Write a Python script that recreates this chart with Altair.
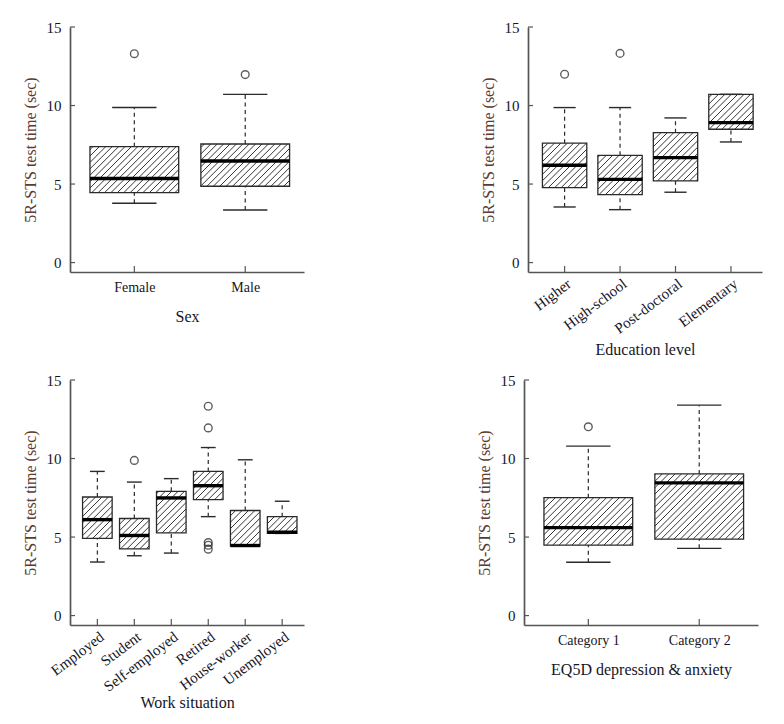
import math
import altair as alt
import pandas as pd

# ---------------- data ----------------
Y_TICKS = [0, 5, 10, 15]
Y_TITLE = "5R-STS test time (sec)"

SEX_CATS = ["Female", "Male"]
SEX_LOW = [3.78, 3.35]
SEX_Q1 = [4.46, 4.86]
SEX_MED = [5.35, 6.47]
SEX_Q3 = [7.38, 7.55]
SEX_UP = [9.87, 10.71]
SEX_OUT_CAT = ["Female", "Male"]
SEX_OUT_VAL = [13.30, 11.97]

EDU_CATS = ["Higher", "High-school", "Post-doctoral", "Elementary"]
EDU_LOW = [3.54, 3.37, 4.48, 7.68]
EDU_Q1 = [4.77, 4.33, 5.20, 8.49]
EDU_MED = [6.20, 5.30, 6.68, 8.91]
EDU_Q3 = [7.60, 6.83, 8.27, 10.71]
EDU_UP = [9.87, 9.87, 9.21, 10.71]
EDU_OUT_CAT = ["Higher", "High-school"]
EDU_OUT_VAL = [11.99, 13.32]

WORK_CATS = ["Employed", "Student", "Self-employed", "Retired", "House-worker", "Unemployed"]
WORK_LOW = [3.41, 3.81, 3.98, 6.30, 4.42, 5.23]
WORK_Q1 = [4.91, 4.25, 5.27, 7.38, 4.42, 5.23]
WORK_MED = [6.11, 5.10, 7.49, 8.27, 4.46, 5.31]
WORK_Q3 = [7.55, 6.18, 7.91, 9.18, 6.69, 6.30]
WORK_UP = [9.18, 8.50, 8.72, 10.70, 9.92, 7.28]
WORK_OUT_CAT = ["Student", "Retired", "Retired", "Retired", "Retired", "Retired"]
WORK_OUT_VAL = [9.88, 13.33, 11.95, 4.65, 4.48, 4.23]

EQ_CATS = ["Category 1", "Category 2"]
EQ_LOW = [3.40, 4.28]
EQ_Q1 = [4.49, 4.87]
EQ_MED = [5.60, 8.45]
EQ_Q3 = [7.51, 9.02]
EQ_UP = [10.79, 13.40]
EQ_OUT_CAT = ["Category 1"]
EQ_OUT_VAL = [12.02]

# ---------------- style ----------------
W = 234
H = 245
Y_LO, Y_HI = -0.6, 15
HATCH_STEP = 6.4
FONT = "Liberation Serif"
INK = "#2a2a2a"
AXIS_COL = "#555555"
LABEL_COL = "#16161f"
YTITLE_COL = "#5b3b31"


def panel(cats, low, q1, med, q3, up, out_cat, out_val, xtitle, rotated):
    n = len(cats)
    x_lo = 0.5 - 0.04 * n
    x_hi = n + 0.5 + 0.015 * n
    sx = W / (x_hi - x_lo)
    sy = H / (Y_HI - Y_LO)
    pos = list(range(1, n + 1))
    box = pd.DataFrame({"pos": pos, "cat": cats, "l": low, "q1": q1,
                        "m": med, "q3": q3, "u": up})
    box["x0"] = box["pos"] - 0.4
    box["x1"] = box["pos"] + 0.4
    box["s0"] = box["pos"] - 0.2
    box["s1"] = box["pos"] + 0.2

    segs = []
    for r in box.itertuples():
        u0 = (r.x0 - x_lo) * sx
        u1 = (r.x1 - x_lo) * sx
        v0 = (r.q1 - Y_LO) * sy
        v1 = (r.q3 - Y_LO) * sy
        kmin = math.ceil((v0 - u1) / HATCH_STEP)
        kmax = math.floor((v1 - u0) / HATCH_STEP)
        for k in range(kmin, kmax + 1):
            c = k * HATCH_STEP
            ua = max(u0, v0 - c)
            ub = min(u1, v1 - c)
            if ub - ua > 0.4:
                segs.append({"hx": ua / sx + x_lo, "hx2": ub / sx + x_lo,
                             "hy": (ua + c) / sy + Y_LO, "hy2": (ub + c) / sy + Y_LO})
    hatch = pd.DataFrame(segs)

    upper_w = box[box["u"] > box["q3"]]
    lower_w = box[box["l"] < box["q1"]]
    outl = pd.DataFrame({"cat": out_cat, "v": out_val})
    outl["pos"] = [cats.index(c) + 1 for c in out_cat]

    label_expr = "[" + ", ".join(["''"] + [f"'{c}'" for c in cats]) + "][datum.value]"
    xaxis = alt.Axis(values=pos, labelExpr=label_expr, title=xtitle, ticks=False,
                     grid=False, domainColor=AXIS_COL, domainWidth=1.7,
                     labelFont=FONT, labelFontSize=15 if rotated else 14,
                     labelColor=LABEL_COL,
                     titleFont=FONT, titleFontSize=16, titleFontWeight="normal",
                     titleColor=LABEL_COL, labelOverlap=False, labelFlush=False,
                     labelAngle=323 if rotated else 0,
                     labelAlign="right" if rotated else "center",
                     labelBaseline="top",
                     labelPadding=4 if rotated else 8,
                     titleY=77 if rotated else 44, titleBaseline="middle")
    yaxis = alt.Axis(values=Y_TICKS, title=Y_TITLE, ticks=False, grid=False,
                     domainColor=AXIS_COL, domainWidth=1.7,
                     labelFont=FONT, labelFontSize=15, labelColor=LABEL_COL,
                     labelPadding=9, titleFont=FONT, titleFontSize=16,
                     titleFontWeight="normal", titleColor=YTITLE_COL, titlePadding=8)
    xs = alt.Scale(domain=[x_lo, x_hi], nice=False, zero=False)
    ys = alt.Scale(domain=[Y_LO, Y_HI], nice=False, zero=False)

    def X(f):
        return alt.X(f + ":Q", scale=xs, axis=xaxis)

    def Y(f):
        return alt.Y(f + ":Q", scale=ys, axis=yaxis)

    fill = alt.Chart(box).mark_rect(fill="white", strokeWidth=0).encode(
        x=X("x0"), x2="x1", y=Y("q1"), y2="q3")
    hat = alt.Chart(hatch).mark_rule(color=INK, strokeWidth=0.95).encode(
        x=X("hx"), x2="hx2", y=Y("hy"), y2="hy2")
    outline = alt.Chart(box).mark_rect(fillOpacity=0, stroke=INK, strokeWidth=1.3).encode(
        x=X("x0"), x2="x1", y=Y("q1"), y2="q3")
    wu = alt.Chart(upper_w).mark_rule(color=INK, strokeWidth=1.2, strokeDash=[4, 3.5]).encode(
        x=X("pos"), y=Y("q3"), y2="u")
    wl = alt.Chart(lower_w).mark_rule(color=INK, strokeWidth=1.2, strokeDash=[4, 3.5]).encode(
        x=X("pos"), y=Y("l"), y2="q1")
    stu = alt.Chart(box).mark_rule(color=INK, strokeWidth=1.4).encode(
        x=X("s0"), x2="s1", y=Y("u"))
    stl = alt.Chart(box).mark_rule(color=INK, strokeWidth=1.4).encode(
        x=X("s0"), x2="s1", y=Y("l"))
    mline = alt.Chart(box).mark_rule(color="black", strokeWidth=3.4).encode(
        x=X("x0"), x2="x1", y=Y("m"))
    pts = alt.Chart(outl).mark_point(shape="circle", filled=False, size=60,
                                     color="#1a1a1a", strokeWidth=1.4).encode(
        x=X("pos"), y=Y("v"))
    yt = alt.Chart(pd.DataFrame({"t": Y_TICKS})).mark_rule(
        color=AXIS_COL, strokeWidth=1.2).encode(
        x=alt.value(0), x2=alt.value(5), y=Y("t"))
    xt = alt.Chart(pd.DataFrame({"pos": pos})).mark_rule(
        color=AXIS_COL, strokeWidth=1.2).encode(
        x=X("pos"), y=alt.value(H), y2=alt.value(H - 6))

    return alt.layer(fill, hat, outline, wu, wl, stu, stl, mline, pts, yt, xt).properties(
        width=W, height=H)


p1 = panel(SEX_CATS, SEX_LOW, SEX_Q1, SEX_MED, SEX_Q3, SEX_UP,
           SEX_OUT_CAT, SEX_OUT_VAL, "Sex", False)
p2 = panel(EDU_CATS, EDU_LOW, EDU_Q1, EDU_MED, EDU_Q3, EDU_UP,
           EDU_OUT_CAT, EDU_OUT_VAL, "Education level", True)
p3 = panel(WORK_CATS, WORK_LOW, WORK_Q1, WORK_MED, WORK_Q3, WORK_UP,
           WORK_OUT_CAT, WORK_OUT_VAL, "Work situation", True)
p4 = panel(EQ_CATS, EQ_LOW, EQ_Q1, EQ_MED, EQ_Q3, EQ_UP,
           EQ_OUT_CAT, EQ_OUT_VAL, "EQ5D depression & anxiety", False)

chart = alt.vconcat(
    alt.hconcat(p1, p2, spacing=176),
    alt.hconcat(p3, p4, spacing=172),
    spacing=16,
).properties(
    padding={"left": 14, "top": 12, "right": 5, "bottom": 5}
).configure_view(strokeWidth=0, stroke="transparent")

chart.save("out.html", embed_options={"renderer": "svg", "actions": False})
